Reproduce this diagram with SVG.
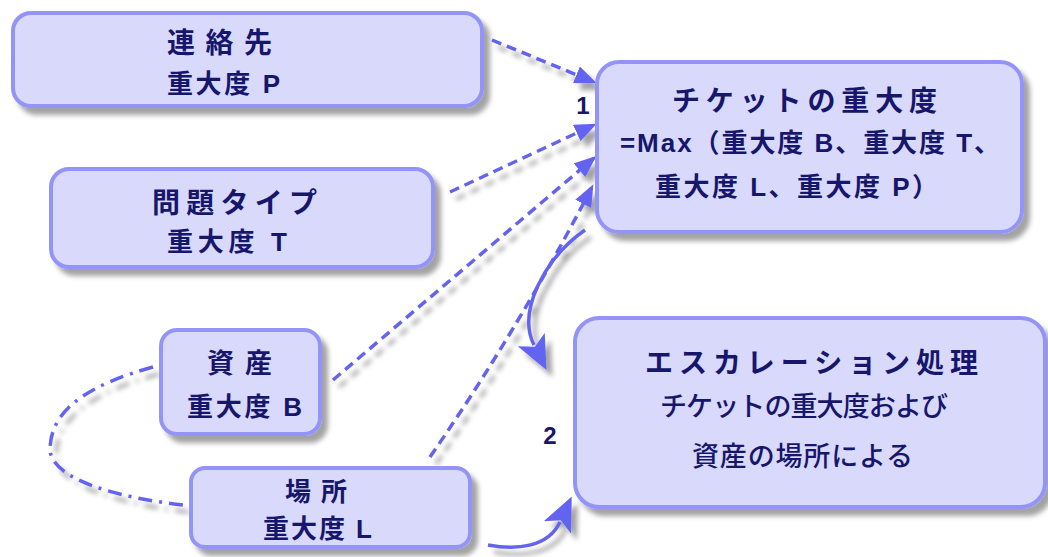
<svg xmlns="http://www.w3.org/2000/svg" width="1048" height="557" viewBox="0 0 1048 557">
<style>
.box{fill:#d9d9fb;stroke:#9494f8;stroke-width:4}
.t{font-family:"Liberation Sans","Noto Sans CJK JP",sans-serif;font-weight:bold;fill:#16166c}
.r{font-family:"Liberation Sans","Noto Sans CJK JP",sans-serif;font-weight:500;fill:#16166c}
.dash{fill:none;stroke:#6464f2;stroke-width:3.5;stroke-dasharray:10 6}
.dd{fill:none;stroke:#6464f2;stroke-width:3.5;stroke-dasharray:14 7 3 7}
.solid{fill:none;stroke:#6464f2;stroke-width:3.5}
</style>
<defs>
<filter id="sh" filterUnits="userSpaceOnUse" x="0" y="0" width="1048" height="557">
<feDropShadow dx="6" dy="7" stdDeviation="2.5" flood-color="#000" flood-opacity="0.36"/>
</filter>
<marker id="ah" markerUnits="userSpaceOnUse" viewBox="0 0 22 18" markerWidth="22" markerHeight="18" refX="19" refY="9" orient="auto">
<path d="M0,0 L22,9 L0,18 z" fill="#6464f2"/>
</marker>
<marker id="ahb" markerUnits="userSpaceOnUse" viewBox="0 0 34 30" markerWidth="34" markerHeight="30" refX="6" refY="15" orient="auto">
<path d="M0,0 L34,15 L0,30 L8,15 z" fill="#6464f2"/>
</marker>
</defs>
<rect width="1048" height="557" fill="#fff"/>

<g id="connectors" filter="url(#sh)">
<path class="dash" d="M492,40 L594,82" marker-end="url(#ah)"/>
<path class="dash" d="M450,192 L594,125" marker-end="url(#ah)"/>
<path class="dash" d="M333,380 L594,158" marker-end="url(#ah)"/>
<path class="dash" d="M430,457 Q518,330 592,187" marker-end="url(#ah)"/>
<path class="solid" d="M585,230 C545,258 517,311 534,345" marker-end="url(#ahb)"/>
<path class="solid" d="M488,545 C515,550 548,548 560,522" marker-end="url(#ahb)"/>
<path class="dd" d="M153,367 C88,385 50,410 50,450 C52,480 120,498 183,505"/>
</g>

<g id="node-contact">
<rect class="box" filter="url(#sh)" x="13" y="13" width="469" height="93" rx="18"/>
<text class="t" x="167" y="53" font-size="28" textLength="105" lengthAdjust="spacing">連絡先</text>
<text class="t" x="167" y="93" font-size="26" textLength="113" lengthAdjust="spacing">重大度 P</text>
</g>

<g id="node-problem">
<rect class="box" filter="url(#sh)" x="51" y="169" width="382" height="98" rx="18"/>
<text class="t" x="152" y="213" font-size="28" textLength="165" lengthAdjust="spacing">問題タイプ</text>
<text class="t" x="167" y="251" font-size="26" textLength="120" lengthAdjust="spacing">重大度 T</text>
</g>

<g id="node-asset">
<rect class="box" filter="url(#sh)" x="161" y="330" width="159" height="104" rx="16"/>
<text class="t" x="207" y="373" font-size="27" textLength="65" lengthAdjust="spacing">資産</text>
<text class="t" x="187" y="416" font-size="26" textLength="115" lengthAdjust="spacing">重大度 B</text>
</g>

<g id="node-location">
<rect class="box" filter="url(#sh)" x="191" y="468" width="279" height="79" rx="14"/>
<text class="t" x="285" y="501" font-size="26" textLength="62" lengthAdjust="spacing">場所</text>
<text class="t" x="263" y="538" font-size="26" textLength="109" lengthAdjust="spacing">重大度 L</text>
</g>

<g id="node-ticket">
<rect class="box" filter="url(#sh)" x="597" y="62" width="425" height="170" rx="22"/>
<text class="t" x="672" y="111" font-size="28" textLength="265" lengthAdjust="spacing">チケットの重大度</text>
<text class="t" x="620" y="152" font-size="26" textLength="380" lengthAdjust="spacing">=Max（重大度 B、重大度 T、</text>
<text class="t" x="655" y="196" font-size="26" textLength="283" lengthAdjust="spacing">重大度 L、重大度 P）</text>
</g>

<g id="node-escalation">
<rect class="box" filter="url(#sh)" x="575" y="318" width="470" height="189" rx="24"/>
<text class="t" x="645" y="373" font-size="28" textLength="333" lengthAdjust="spacing">エスカレーション処理</text>
<text class="r" x="660" y="416" font-size="27" textLength="288" lengthAdjust="spacing">チケットの重大度および</text>
<text class="r" x="692" y="466" font-size="27" textLength="221" lengthAdjust="spacing">資産の場所による</text>
</g>

<g id="labels">
<text class="t" x="583" y="114" font-size="24" text-anchor="middle">1</text>
<text class="t" x="550" y="444" font-size="24" text-anchor="middle">2</text>
</g>
</svg>
